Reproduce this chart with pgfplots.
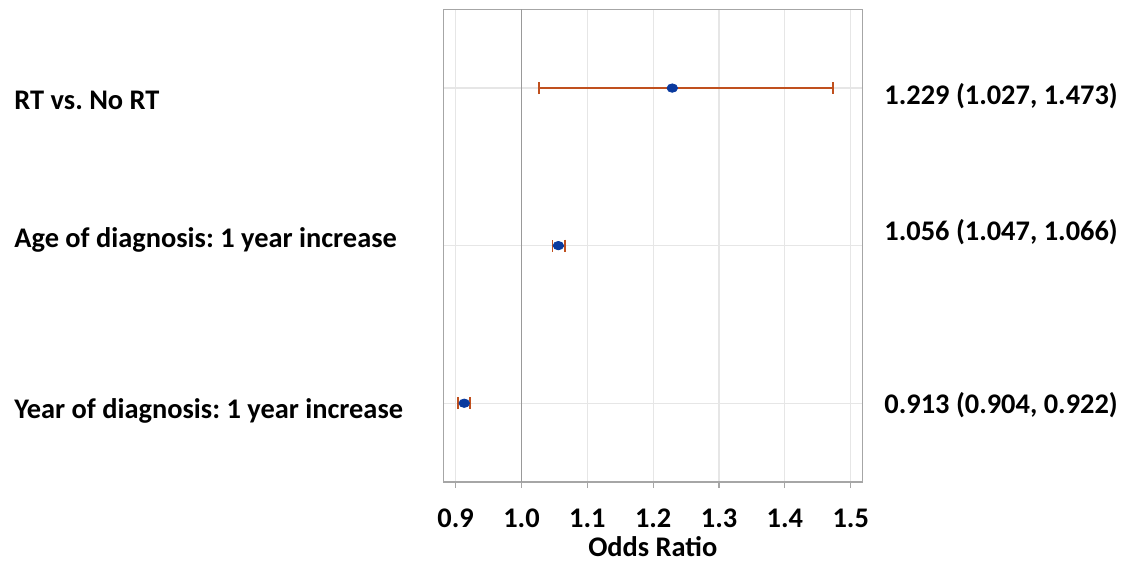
\documentclass[border=0pt]{standalone}
\usepackage{fontspec}
\setmainfont{Carlito}
\usepackage{pgfplots}
\usepackage{pgfplotstable}
\pgfplotsset{compat=1.18}
\frenchspacing
\definecolor{errc}{HTML}{C0501E}
\definecolor{dotc}{HTML}{0A3A9E}
\definecolor{gridc}{HTML}{E6E6E6}
\definecolor{framec}{HTML}{A6A6A6}
\definecolor{refc}{HTML}{999999}
\pgfplotstableread{
row or ep em
3 1.229 0.244 0.202
2 1.056 0.010 0.009
1 0.913 0.009 0.009
}\ordata
\begin{document}
\frenchspacing
\begin{tikzpicture}
\useasboundingbox (0,0) rectangle (567.5bp,280.5bp);
\begin{axis}[
  at={(221.65bp,39.5bp)}, anchor=south west,
  scale only axis, width=209.5bp, height=236.35bp,
  xmin=0.8812, xmax=1.5176, ymin=0.5, ymax=3.5,
  axis line style={framec, line width=0.7bp},
  xtick={0.9,1.0,1.1,1.2,1.3,1.4,1.5},
  xticklabels={0.9,1.0,1.1,1.2,1.3,1.4,1.5},
  xtick pos=bottom, xtick align=outside,
  major tick length=3bp,
  tick style={framec, line width=0.6bp},
  ytick={1,2,3}, yticklabels={}, ytick style={draw=none},
  grid=major, major grid style={gridc, line width=0.6bp},
  xticklabel style={font=\fontsize{14.2bp}{17bp}\selectfont\bfseries, anchor=base, yshift=-19.85bp},
  xlabel={Odds Ratio},
  xlabel style={font=\fontsize{14.2bp}{17bp}\selectfont\bfseries, at={(axis description cs:0.5,0)}, anchor=base, yshift=-37bp},
  clip=false,
]
\draw[refc, line width=0.7bp] (axis cs:1.0,0.5) -- (axis cs:1.0,3.5);
\addplot[only marks, mark=*, mark size=2.1bp, mark options={fill=dotc, draw=dotc, xscale=1.25},
  error bars/.cd, x dir=both, x explicit,
  error bar style={errc, line width=0.9bp},
  error mark options={errc, line width=0.9bp, mark size=3bp, rotate=90}]
  table[x=or, y=row, x error plus=ep, x error minus=em] {\ordata};
\end{axis}
\begin{scope}[every node/.style={inner sep=0pt, font=\fontsize{14.2bp}{17bp}\selectfont\bfseries}]
\node[anchor=base west] at (7bp,225.85bp) {RT vs. No RT};
\node[anchor=base west] at (7bp,156.65bp) {Age of diagnosis: 1 year increase};
\node[anchor=base west] at (7bp,71.35bp) {Year of diagnosis: 1 year increase};
\node[anchor=base west] at (442bp,228bp) {1.229 (1.027, 1.473)};
\node[anchor=base west] at (442bp,160.15bp) {1.056 (1.047, 1.066)};
\node[anchor=base west] at (442bp,73.85bp) {0.913 (0.904, 0.922)};
\end{scope}
\end{tikzpicture}
\end{document}
